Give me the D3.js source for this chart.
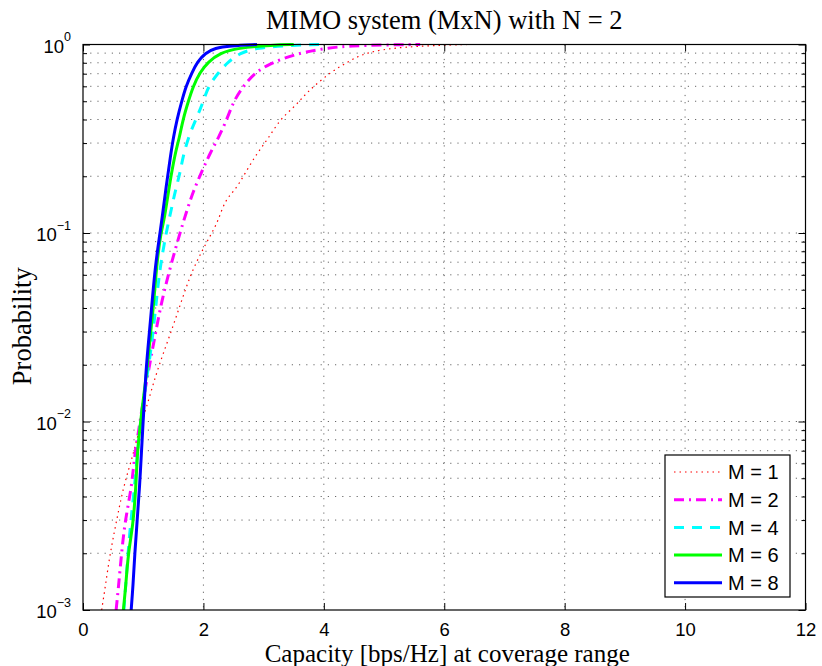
<!DOCTYPE html>
<html>
<head>
<meta charset="utf-8">
<script src="https://cdn.jsdelivr.net/npm/d3@7.9.0/dist/d3.min.js"></script>
<style>
  body { margin: 0; background: #fff; }
  svg { display: block; }
</style>
</head>
<body>
<svg id="chart" width="822" height="666"></svg>
<script>
// capacity (bps/Hz) vs probability
const capM1 = [0.31, 0.37, 0.45, 0.56, 0.67, 0.84, 0.92, 1.0, 1.09, 1.25, 1.45, 1.64, 1.83, 2.14, 2.25, 2.36, 2.53, 2.69, 2.89, 3.08, 3.27, 3.49, 3.66, 3.83, 4.13, 4.38, 4.60, 4.94, 5.49, 6.38];
const probM1 = [0.001, 0.00133, 0.002, 0.003, 0.0045, 0.0068, 0.0087, 0.0105, 0.013, 0.0195, 0.029, 0.044, 0.066, 0.1, 0.117, 0.15, 0.169, 0.207, 0.265, 0.318, 0.40, 0.46, 0.53, 0.60, 0.72, 0.80, 0.88, 0.94, 0.98, 1.0];

const capM2 = [0.55, 0.59, 0.64, 0.70, 0.81, 0.86, 0.92, 1.0, 1.10, 1.20, 1.31, 1.45, 1.61, 1.72, 1.83, 1.97, 2.11, 2.25, 2.39, 2.50, 2.66, 2.86, 3.10, 3.40, 3.70, 4.07, 4.44, 5.0, 5.6];
const probM2 = [0.001, 0.00133, 0.002, 0.003, 0.0045, 0.0068, 0.0087, 0.013, 0.0195, 0.029, 0.044, 0.066, 0.1, 0.130, 0.166, 0.211, 0.265, 0.32, 0.40, 0.50, 0.60, 0.71, 0.79, 0.86, 0.915, 0.958, 0.985, 0.995, 1.0];

const capM4 = [0.68, 0.72, 0.77, 0.84, 0.90, 0.95, 1.0, 1.09, 1.16, 1.22, 1.28, 1.38, 1.47, 1.53, 1.61, 1.66, 1.76, 1.89, 2.0, 2.08, 2.25, 2.41, 2.61, 2.86, 3.49, 4.0];
const probM4 = [0.001, 0.0015, 0.0025, 0.004, 0.0065, 0.0095, 0.013, 0.0195, 0.029, 0.044, 0.066, 0.1, 0.135, 0.166, 0.207, 0.254, 0.33, 0.41, 0.50, 0.60, 0.71, 0.81, 0.90, 0.958, 0.993, 1.0];

const capM6 = [0.67, 0.71, 0.75, 0.83, 0.88, 0.90, 0.96, 1.0, 1.07, 1.12, 1.18, 1.22, 1.29, 1.35, 1.43, 1.53, 1.60, 1.66, 1.75, 1.83, 1.94, 2.08, 2.28, 2.55, 3.16, 3.5];
const probM6 = [0.001, 0.00133, 0.002, 0.0028, 0.0045, 0.0068, 0.0102, 0.013, 0.0195, 0.029, 0.044, 0.066, 0.1, 0.117, 0.176, 0.265, 0.319, 0.40, 0.50, 0.60, 0.71, 0.81, 0.90, 0.958, 0.993, 1.0];

const capM8 = [0.80, 0.83, 0.86, 0.90, 0.94, 0.97, 1.0, 1.02, 1.05, 1.10, 1.15, 1.20, 1.27, 1.31, 1.38, 1.46, 1.50, 1.56, 1.64, 1.71, 1.81, 1.90, 2.03, 2.19, 2.44, 2.89];
const probM8 = [0.001, 0.00133, 0.002, 0.003, 0.0045, 0.0068, 0.0102, 0.013, 0.0195, 0.029, 0.044, 0.066, 0.096, 0.117, 0.176, 0.265, 0.319, 0.40, 0.50, 0.60, 0.71, 0.81, 0.90, 0.958, 0.985, 1.0];

const legendLabels = ['M = 1', 'M = 2', 'M = 4', 'M = 6', 'M = 8'];
const xTicks = [0, 2, 4, 6, 8, 10, 12];
const yMajor = [1e-3, 1e-2, 1e-1, 1];
const yExponents = ['\u22123', '\u22122', '\u22121', '0'];

const series = [
  { cap: capM1, prob: probM1, color: '#ff0000', width: 1.2, dash: '1.5,4' },
  { cap: capM2, prob: probM2, color: '#ff00ff', width: 3, dash: '10,5,2,5' },
  { cap: capM4, prob: probM4, color: '#00ffff', width: 3, dash: '10,8' },
  { cap: capM6, prob: probM6, color: '#00ff00', width: 3, dash: null },
  { cap: capM8, prob: probM8, color: '#0000ff', width: 3, dash: null },
];

const L = 83, T = 44.5, R = 805.5, B = 610;
const svg = d3.select('#chart');

const x = d3.scaleLinear().domain([0, 12]).range([L, R]);
const y = d3.scaleLog().domain([1e-3, 1]).range([B, T]);

// minor log values
const yMinor = [];
[1e-3, 1e-2, 1e-1].forEach(d => { for (let k = 2; k <= 9; k++) yMinor.push(d * k); });

// dotted grid
const grid = svg.append('g')
  .attr('stroke', '#444')
  .attr('stroke-width', 1)
  .attr('stroke-dasharray', '1.2,6')
  .attr('opacity', 0.8);
grid.selectAll('.hg')
  .data(yMinor.concat([1e-2, 1e-1]))
  .join('line')
  .attr('x1', L).attr('x2', R)
  .attr('y1', d => y(d)).attr('y2', d => y(d));
grid.selectAll('.vg')
  .data(xTicks.slice(1, -1))
  .join('line')
  .attr('x1', d => x(d)).attr('x2', d => x(d))
  .attr('y1', T).attr('y2', B);

// curves
svg.append('clipPath').attr('id', 'clip')
  .append('rect').attr('x', L).attr('y', T - 2).attr('width', R - L).attr('height', B - T + 2);

const line = d3.line()
  .x(d => x(d[0]))
  .y(d => y(d[1]))
  .curve(d3.curveBasis);

svg.append('g').attr('clip-path', 'url(#clip)')
  .selectAll('path')
  .data(series)
  .join('path')
  .attr('fill', 'none')
  .attr('stroke', d => d.color)
  .attr('stroke-width', d => d.width)
  .attr('stroke-dasharray', d => d.dash)
  .attr('d', d => line(d3.zip(d.cap, d.prob)));

// axes (ticks pointing inward)
const tickFont = '"Liberation Sans", Arial, sans-serif';

const xAxis = svg.append('g')
  .attr('transform', `translate(0,${B})`)
  .call(d3.axisBottom(x).tickValues(xTicks).tickSize(-7).tickPadding(12.5).tickFormat(d3.format('d')));
xAxis.selectAll('text').attr('font-family', tickFont).attr('font-size', 18.5).attr('fill', '#000');

svg.append('g')
  .attr('transform', `translate(0,${T})`)
  .call(d3.axisTop(x).tickValues(xTicks).tickSize(-7).tickFormat(''));

const yAxis = svg.append('g')
  .attr('transform', `translate(${L},0)`)
  .call(d3.axisLeft(y).tickValues(yMajor).tickSize(-7).tickPadding(12).tickFormat(''));
yAxis.selectAll('.tick text').each(function (d) {
  const t = d3.select(this)
    .attr('font-family', tickFont).attr('font-size', 18.5).attr('fill', '#000')
    .attr('dy', '0.43em');
  t.append('tspan').text('10');
  t.append('tspan').attr('font-size', 12.5).attr('dy', -11.6).text(yExponents[yMajor.indexOf(d)]);
});

svg.append('g')
  .attr('transform', `translate(${L},0)`)
  .call(d3.axisLeft(y).tickValues(yMinor).tickSize(-4).tickFormat(''));
svg.append('g')
  .attr('transform', `translate(${R},0)`)
  .call(d3.axisRight(y).tickValues(yMajor).tickSize(-7).tickFormat(''));
svg.append('g')
  .attr('transform', `translate(${R},0)`)
  .call(d3.axisRight(y).tickValues(yMinor).tickSize(-4).tickFormat(''));

svg.selectAll('.domain').remove();
svg.selectAll('.tick line').attr('stroke', '#000');

svg.append('rect')
  .attr('x', L).attr('y', T).attr('width', R - L).attr('height', B - T)
  .attr('fill', 'none').attr('stroke', '#000').attr('stroke-width', 1.2);

// labels
const serif = '"Liberation Serif", "Times New Roman", serif';
svg.append('text')
  .attr('x', (L + R) / 2).attr('y', 29)
  .attr('text-anchor', 'middle')
  .attr('font-family', serif).attr('font-size', 26.5)
  .text('MIMO system (MxN) with N = 2');
svg.append('text')
  .attr('x', (L + R) / 2 + 3).attr('y', 662)
  .attr('text-anchor', 'middle')
  .attr('font-family', serif).attr('font-size', 25)
  .text('Capacity [bps/Hz] at coverage range');
svg.append('text')
  .attr('transform', `translate(31,${(T + B) / 2 - 1}) rotate(-90)`)
  .attr('text-anchor', 'middle')
  .attr('font-family', serif).attr('font-size', 26.5)
  .text('Probability');

// legend
const lg = svg.append('g').attr('transform', 'translate(665,455)');
lg.append('rect')
  .attr('width', 125).attr('height', 142)
  .attr('fill', '#fff').attr('stroke', '#000').attr('stroke-width', 1.2);
const items = lg.selectAll('.item')
  .data(series)
  .join('g')
  .attr('transform', (d, i) => `translate(0,${17 + i * 27.7})`);
items.append('line')
  .attr('x1', 9).attr('x2', 57)
  .attr('stroke', d => d.color)
  .attr('stroke-width', d => d.width)
  .attr('stroke-dasharray', d => d.dash);
items.append('text')
  .attr('x', 63).attr('dy', '0.36em')
  .attr('font-family', tickFont).attr('font-size', 20)
  .text((d, i) => legendLabels[i]);
</script>
</body>
</html>
